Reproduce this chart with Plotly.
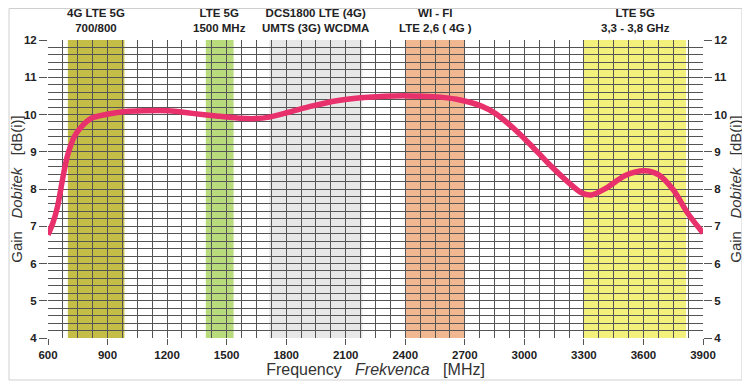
import plotly.graph_objects as go

# Gain curve (MHz, dBi)
freq = [600, 624, 648, 673, 697, 733, 770, 818, 891, 988, 1085, 1206, 1327, 1448,
        1569, 1642, 1715, 1812, 1933, 2054, 2175, 2296, 2417, 2538, 2659, 2781,
        2853, 2926, 3023, 3120, 3217, 3290, 3338, 3411, 3508, 3605, 3677, 3750,
        3823, 3900]
gain = [6.77, 7.08, 7.53, 8.25, 8.87, 9.41, 9.68, 9.9, 10.0, 10.08, 10.1, 10.1,
        10.03, 9.96, 9.9, 9.89, 9.93, 10.06, 10.23, 10.37, 10.45, 10.49, 10.5,
        10.48, 10.41, 10.23, 10.03, 9.72, 9.23, 8.69, 8.2, 7.89, 7.84, 8.02, 8.36,
        8.49, 8.38, 7.98, 7.35, 6.82]

# Frequency bands
band_labels = ["4G LTE 5G<br>700/800", "LTE 5G<br>1500 MHz",
               "DCS1800 LTE (4G)<br>UMTS (3G) WCDMA", "WI - FI<br>LTE 2,6 ( 4G )",
               "LTE 5G<br>3,3 - 3,8 GHz"]
band_start = [700, 1395, 1715, 2400, 3300]
band_end = [985, 1535, 2185, 2700, 3815]
band_colors = ["#c4be46", "#b8dc7c", "#e7e7e7", "#f0b790", "#f4f07c"]

x_ticks = [600, 900, 1200, 1500, 1800, 2100, 2400, 2700, 3000, 3300, 3600, 3900]
y_ticks = [4, 5, 6, 7, 8, 9, 10, 11, 12]
x_minor_step = 75
y_minor_step = 0.2

x_minor = [x_ticks[0] + i * x_minor_step
           for i in range(int((x_ticks[-1] - x_ticks[0]) / x_minor_step) + 1)]
y_minor = [round(y_ticks[0] + i * y_minor_step, 3)
           for i in range(int(round((y_ticks[-1] - y_ticks[0]) / y_minor_step)) + 1)]

fig = go.Figure()
fig.add_trace(go.Scatter(x=freq, y=gain, mode="lines",
                         line=dict(color="#e8306c", width=5.5, shape="spline", smoothing=0.8),
                         hoverinfo="skip", showlegend=False))
fig.add_trace(go.Scatter(x=freq, y=gain, mode="lines", yaxis="y2", opacity=0,
                         line=dict(width=0), hoverinfo="skip", showlegend=False))

labfont = dict(family="Liberation Sans, Arial", size=11.5, color="#222", weight="bold")
for lab, s, e, c in zip(band_labels, band_start, band_end, band_colors):
    fig.add_shape(type="rect", xref="x", yref="paper", x0=s, x1=e, y0=0, y1=1,
                  fillcolor=c, line=dict(width=0), layer="below")
    fig.add_annotation(x=(s + e) / 2, xref="x", y=1.0638, yref="paper", yanchor="middle",
                       text=lab, showarrow=False, font=labfont)

# outer frame
fig.add_shape(type="rect", xref="paper", yref="paper", x0=-0.0595, x1=1.0595,
              y0=-0.1409, y1=1.1057, line=dict(color="#cfcfcf", width=1), layer="above")

tickfont = dict(family="Liberation Sans, Arial", size=11.5, color="#222", weight="bold")
titlefont = dict(family="Liberation Sans, Arial", size=16, color="#333")
ytitlefont = dict(family="Liberation Sans, Arial", size=15, color="#333")
ytitle = "Gain   <i>Dobitek</i>   [dB(i)]"
grid = "#555"

fig.update_layout(
    width=742, height=383,
    margin=dict(l=40, r=47, t=32, b=53),
    paper_bgcolor="white", plot_bgcolor="white",
    xaxis=dict(range=[x_ticks[0], x_ticks[-1]], tickmode="array", tickvals=x_ticks,
               ticks="outside", ticklen=6,
               tickcolor=grid, tickfont=tickfont, showgrid=True, gridcolor=grid,
               gridwidth=1, zeroline=False, automargin=False,
               minor=dict(tickmode="array", tickvals=x_minor, ticks="", showgrid=True,
                          gridcolor=grid, gridwidth=1),
               title=dict(text="Frequency   <i>Frekvenca</i>   [MHz]", font=titlefont, standoff=2)),
    yaxis=dict(range=[y_ticks[0], y_ticks[-1]], tickmode="array", tickvals=y_ticks,
               ticks="outside", ticklen=8,
               tickcolor=grid, tickfont=tickfont, showgrid=True, gridcolor=grid,
               gridwidth=1, zeroline=False, automargin=False,
               minor=dict(tickmode="array", tickvals=y_minor, ticks="", showgrid=True,
                          gridcolor=grid, gridwidth=1),
               title=dict(text=ytitle, font=ytitlefont, standoff=4)),
    yaxis2=dict(range=[y_ticks[0], y_ticks[-1]], tickmode="array", tickvals=y_ticks,
                ticks="outside", ticklen=8,
                tickcolor=grid, tickfont=tickfont, overlaying="y", side="right",
                showgrid=False, zeroline=False, automargin=False,
                title=dict(text=ytitle, font=ytitlefont, standoff=4)),
)

fig.write_html("out.html")
